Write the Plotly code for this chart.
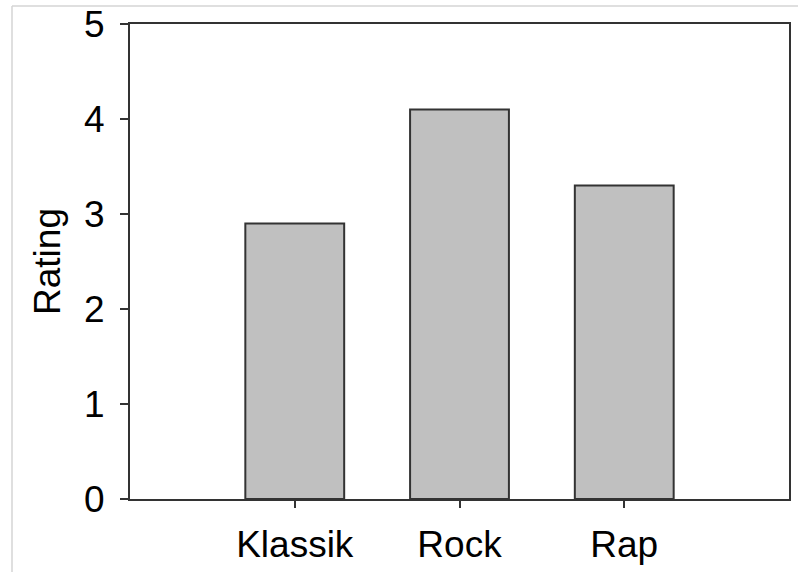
import plotly.graph_objects as go

categories = ["Klassik", "Rock", "Rap"]
ratings = [2.9, 4.1, 3.3]
y_ticks = [0, 1, 2, 3, 4, 5]

FONT = "Liberation Sans, Arial, sans-serif"
AXIS_COLOR = "#333333"
FS = 37

fig = go.Figure()
fig.add_trace(go.Bar(
    x=list(range(len(categories))),
    y=ratings,
    width=0.6,
    marker=dict(color="#c0c0c0", line=dict(color="#333333", width=2)),
))

L, R, T, B = 130, 9, 24, 73
W, H = 798, 572
pw = W - L - R
ph = H - T - B

fig.update_layout(
    width=W, height=H,
    margin=dict(l=L, r=R, t=T, b=B, pad=0, autoexpand=False),
    paper_bgcolor="white",
    plot_bgcolor="white",
    showlegend=False,
    font=dict(family=FONT, size=FS, color="black"),
    xaxis=dict(
        range=[-1, 3],
        automargin=False,
        tickmode="array",
        tickvals=list(range(len(categories))),
        ticktext=categories,
        ticks="outside", ticklen=7, tickwidth=2, tickcolor=AXIS_COLOR,
        showline=True, linecolor=AXIS_COLOR, linewidth=2, mirror=True,
        showgrid=False, zeroline=False,
        ticklabelstandoff=5,
        tickfont=dict(family=FONT, size=FS, color="black"),
    ),
    yaxis=dict(
        range=[0, 5],
        automargin=False,
        tickmode="array",
        tickvals=y_ticks,
        ticktext=[str(v) for v in y_ticks],
        ticks="outside", ticklen=8, tickwidth=2, tickcolor=AXIS_COLOR,
        showline=True, linecolor=AXIS_COLOR, linewidth=2, mirror=True,
        showgrid=False, zeroline=False,
        ticklabelstandoff=8,
        tickfont=dict(family=FONT, size=FS, color="black"),
        title=dict(text="Rating", font=dict(family=FONT, size=FS, color="black"), standoff=12),
    ),
)

# light gray frame of the original image (top and left edges)
x_left = (12 - L) / pw
y_top = (H - B - 6) / ph
fig.add_shape(type="line", xref="paper", yref="paper", x0=x_left, x1=(W - L) / pw + 0.01,
              y0=y_top, y1=y_top, line=dict(color="#d4d4d4", width=1.5))
fig.add_shape(type="line", xref="paper", yref="paper", x0=x_left, x1=x_left,
              y0=-B / ph - 0.01, y1=y_top, line=dict(color="#d4d4d4", width=1.5))

fig.write_html("out.html", config={"displayModeBar": False},
               post_script="document.body.style.margin='0';document.body.style.padding='0';")
